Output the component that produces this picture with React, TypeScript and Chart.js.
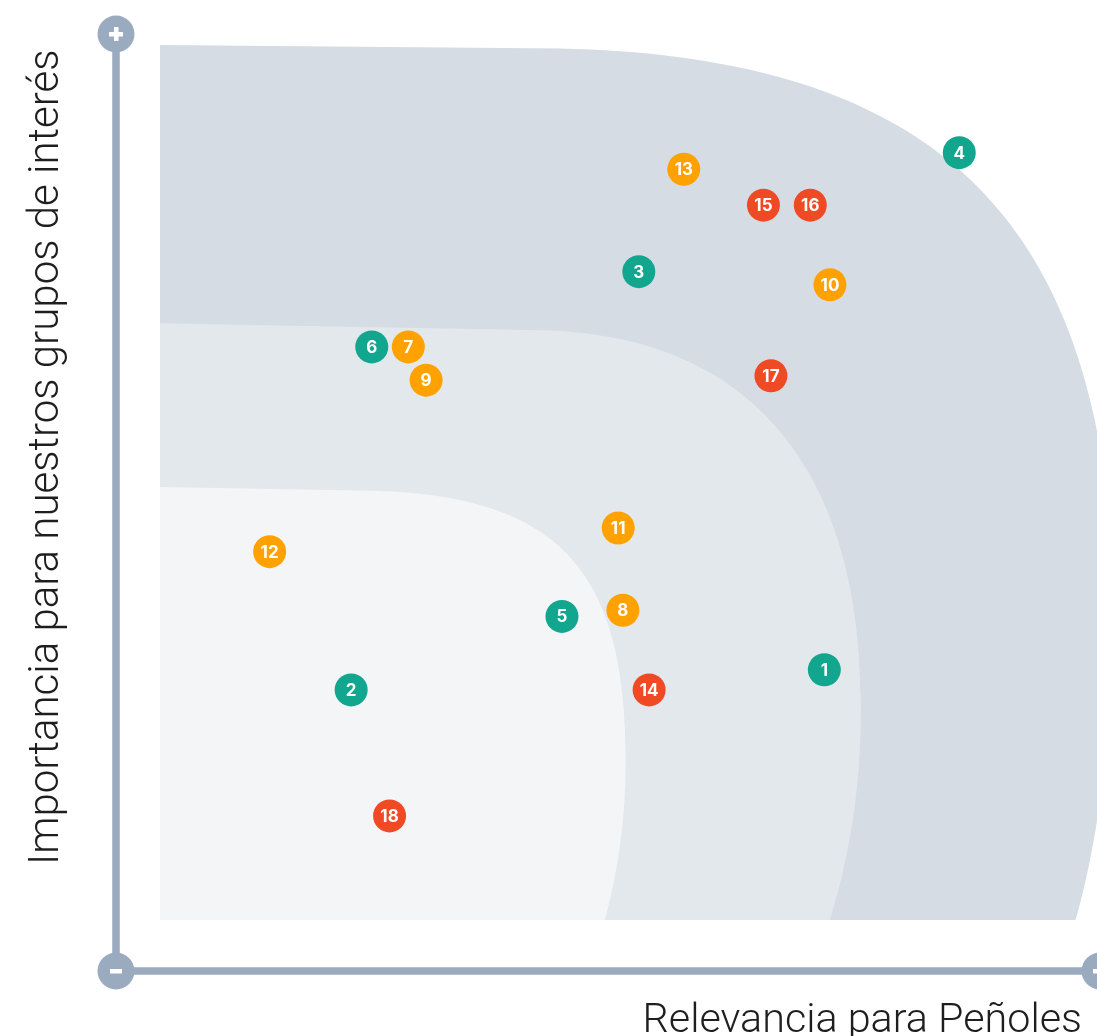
import React, { useEffect, useRef } from "react";
import { Chart, registerables } from "chart.js";

Chart.register(...registerables);

// Materiality topics (ids)
const temas = [1, 2, 3, 4, 5, 6, 7, 8, 9, 10, 11, 12, 13, 14, 15, 16, 17, 18];
// Relevancia para Peñoles (x, 0–100)
const relevancia = [70.9, 20.4, 51.1, 85.3, 42.9, 22.6, 26.5, 49.4, 28.4, 71.5, 48.9, 11.7, 55.9, 52.2, 64.4, 69.4, 65.2, 24.5];
// Importancia para nuestros grupos de interés (y, 0–100)
const importancia = [28.6, 26.3, 74.1, 87.7, 34.7, 65.5, 65.5, 35.4, 61.7, 72.6, 44.8, 42.1, 85.8, 26.3, 81.7, 81.7, 62.2, 11.9];
// Colour group of each topic
const grupo = ["g1", "g1", "g1", "g1", "g1", "g1", "g2", "g2", "g2", "g2", "g2", "g2", "g2", "g3", "g3", "g3", "g3", "g3"];
const grupos = ["g1", "g2", "g3"];
const coloresGrupo: Record<string, string> = { g1: "#11A68D", g2: "#FFA200", g3: "#EF4A24" };

const tituloX = "Relevancia para Peñoles";
const tituloY = "Importancia para nuestros grupos de interés";

const AXIS_COLOR = "#9AABBF";

const zonesPlugin = {
  id: "zones",
  beforeDatasetsDraw(chart: any) {
    const { ctx } = chart;
    const xs = chart.scales.x;
    const ys = chart.scales.y;
    const P = (a: number, b: number): [number, number] => [xs.getPixelForValue(a), ys.getPixelForValue(b)];
    const zone = (color: string, segs: number[][]) => {
      ctx.save();
      ctx.beginPath();
      const s = P(segs[0][0], segs[0][1]);
      ctx.moveTo(s[0], s[1]);
      const l = P(segs[1][0], segs[1][1]);
      ctx.lineTo(l[0], l[1]);
      for (let i = 2; i < segs.length; i++) {
        const c = segs[i];
        const a = P(c[0], c[1]);
        const b = P(c[2], c[3]);
        const e = P(c[4], c[5]);
        ctx.bezierCurveTo(a[0], a[1], b[0], b[1], e[0], e[1]);
      }
      const o = P(0, 0);
      ctx.lineTo(o[0], o[1]);
      ctx.closePath();
      ctx.fillStyle = color;
      ctx.fill();
      ctx.restore();
    };
    zone("#D5DCE4", [
      [0, 100],
      [42.7, 99.6],
      [85.5, 98.6, 101.4, 77.5, 101.9, 34.3],
      [101.6, 18.3, 99.3, 5.7, 97.7, 0],
    ]);
    zone("#E3E8ED", [
      [0, 68.2],
      [40.6, 67.4],
      [64.0, 66.9, 74.7, 50.3, 74.8, 25.1],
      [74.9, 13.7, 73.1, 5.7, 71.5, 0],
    ]);
    zone("#F3F5F7", [
      [0, 49.5],
      [21.3, 49.1],
      [42.7, 48.9, 49.7, 40, 49.7, 18.3],
      [49.7, 10.3, 48.6, 4.6, 47.5, 0],
    ]);
  },
  afterDatasetsDraw(chart: any) {
    const { ctx } = chart;
    ctx.save();
    ctx.fillStyle = "#FFFFFF";
    ctx.font = "700 17px Inter, 'Noto Sans', sans-serif";
    ctx.textAlign = "center";
    ctx.textBaseline = "middle";
    chart.data.datasets.forEach((ds: any, di: number) => {
      const meta = chart.getDatasetMeta(di);
      meta.data.forEach((pt: any, i: number) => {
        ctx.fillText(String(ds.data[i].id), pt.x, pt.y + 1);
      });
    });
    ctx.restore();
  },
  afterDraw(chart: any) {
    const { ctx, chartArea } = chart;
    const ax = chartArea.left - 44;
    const ay = chartArea.bottom + 51;
    const top = chartArea.top - 11;
    const right = chartArea.right + 3;
    ctx.save();
    ctx.strokeStyle = AXIS_COLOR;
    ctx.lineWidth = 7.5;
    ctx.beginPath();
    ctx.moveTo(ax, top);
    ctx.lineTo(ax, ay);
    ctx.lineTo(right, ay);
    ctx.stroke();
    ctx.fillStyle = AXIS_COLOR;
    const r = 18.5;
    [[ax, top], [ax, ay], [right, ay]].forEach(([cx, cy]) => {
      ctx.beginPath();
      ctx.arc(cx, cy, r, 0, Math.PI * 2);
      ctx.fill();
    });
    ctx.fillStyle = "#FFFFFF";
    // plus signs
    [[ax, top], [right, ay]].forEach(([cx, cy]) => {
      ctx.fillRect(cx - 7, cy - 2, 14, 4.5);
      ctx.fillRect(cx - 2, cy - 7, 4.5, 14);
    });
    // minus sign
    ctx.fillRect(ax - 6, ay - 2, 12, 4.5);

    // axis titles
    ctx.fillStyle = "#1E1E1E";
    ctx.textBaseline = "alphabetic";
    ctx.font = "300 41.3px Roboto, 'Noto Sans', sans-serif";
    ctx.textAlign = "right";
    ctx.fillText(tituloX, chartArea.right - 15, chartArea.bottom + 112);
    ctx.save();
    ctx.font = "300 42px Roboto, 'Noto Sans', sans-serif";
    ctx.translate(chartArea.left - 102, chartArea.bottom - 55);
    ctx.rotate(-Math.PI / 2);
    ctx.textAlign = "left";
    ctx.fillText(tituloY, 0, 0);
    ctx.restore();
    ctx.restore();
  },
};

export default function App() {
  const canvasRef = useRef<HTMLCanvasElement | null>(null);
  useEffect(() => {
    if (!canvasRef.current) return;
    const datasets = grupos.map((g) => {
      const pts = temas
        .map((id, i) => ({ x: relevancia[i], y: importancia[i], id, g: grupo[i] }))
        .filter((p) => p.g === g);
      return {
        label: g,
        data: pts,
        pointRadius: 16.5,
        pointHoverRadius: 16.5,
        pointBackgroundColor: coloresGrupo[g],
        pointBorderWidth: 0,
        borderWidth: 0,
        showLine: false,
      };
    });
    const chart = new Chart(canvasRef.current, {
      type: "scatter",
      data: { datasets } as any,
      options: {
        animation: false,
        responsive: true,
        maintainAspectRatio: false,
        layout: { autoPadding: false, padding: { left: 160, top: 45, right: 0, bottom: 116 } },
        scales: {
          x: { type: "linear", min: 0, max: 100, display: false },
          y: { type: "linear", min: 0, max: 100, display: false },
        },
        plugins: { legend: { display: false }, tooltip: { enabled: false } },
        events: [],
      },
      plugins: [zonesPlugin],
    });
    return () => chart.destroy();
  }, []);
  return (
    <div style={{ position: "fixed", left: 0, top: 0, width: 1097, height: 1036, background: "#FFFFFF" }}>
      <canvas ref={canvasRef} />
    </div>
  );
}
